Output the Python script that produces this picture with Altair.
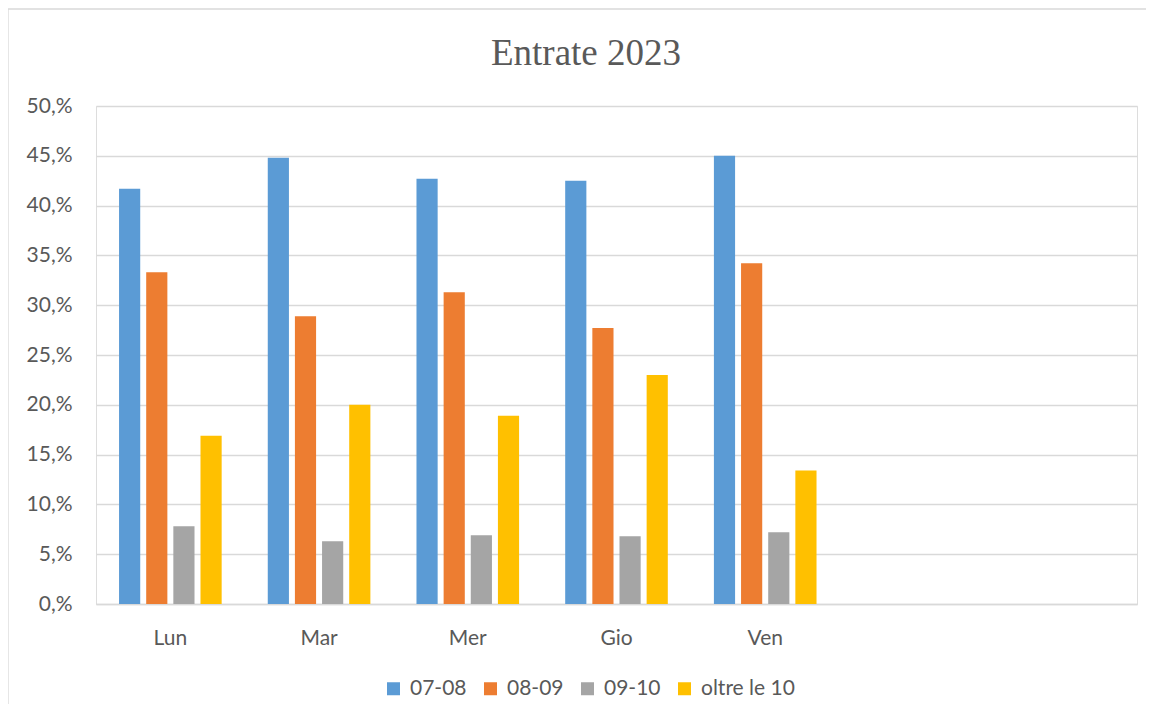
import altair as alt
import pandas as pd

title_text = "Entrate 2023"
days = ["Lun", "Mar", "Mer", "Gio", "Ven"]
empty_slots = [" ", "  "]
series = ["07-08", "08-09", "09-10", "oltre le 10"]
v_0708 = [41.7, 44.8, 42.7, 42.5, 45.0]
v_0809 = [33.3, 28.9, 31.3, 27.7, 34.2]
v_0910 = [7.8, 6.3, 6.9, 6.8, 7.2]
v_oltre = [16.9, 20.0, 18.9, 23.0, 13.4]
colors = ["#5B9BD5", "#ED7D31", "#A5A5A5", "#FFC000"]
y_ticks = [0, 5, 10, 15, 20, 25, 30, 35, 40, 45, 50]

rows = []
for s, vals in zip(series, [v_0708, v_0809, v_0910, v_oltre]):
    for d, v in zip(days, vals):
        rows.append({"giorno": d, "fascia": s, "valore": v})
df = pd.DataFrame(rows)

W, H = 1041, 498
label_font = "Lato"
txt = "#595959"

bars = alt.Chart(df).mark_bar().encode(
    x=alt.X("giorno:N", sort=days + empty_slots,
            scale=alt.Scale(domain=days + empty_slots, paddingInner=0.31, paddingOuter=0.155),
            axis=alt.Axis(title=None, labelAngle=0, labelFont=label_font, labelFontSize=21,
                          labelColor=txt, labelPadding=23, ticks=False, domainColor="#d9d9d9",
                          domainWidth=1.3, grid=False)),
    xOffset=alt.XOffset("fascia:N", sort=series,
                        scale=alt.Scale(domain=series, paddingInner=0.22, paddingOuter=0)),
    y=alt.Y("valore:Q", scale=alt.Scale(domain=[0, 50], nice=False),
            axis=alt.Axis(title=None, values=y_ticks, labelExpr="datum.value + ',%'",
                          labelFont=label_font, labelFontSize=21, labelColor=txt,
                          labelPadding=24, ticks=False, domain=False,
                          gridColor="#d9d9d9", gridWidth=1.3)),
    color=alt.Color("fascia:N", sort=series,
                    scale=alt.Scale(domain=series, range=colors),
                    legend=alt.Legend(title=None, orient="none", direction="horizontal",
                                      legendX=287, legendY=572,
                                      symbolType="square", symbolSize=169,
                                      symbolStrokeWidth=0,
                                      labelFont=label_font, labelFontSize=21,
                                      labelColor=txt, labelOffset=6,
                                      columnPadding=13)),
)

deco = alt.Chart(pd.DataFrame({"t": [title_text]}))

frame_top = deco.mark_rule(color="#d9d9d9", strokeWidth=1.3).encode(
    x=alt.value(-88), x2=alt.value(W + 200), y=alt.value(-97),
)
frame_left = deco.mark_rule(color="#d9d9d9", strokeWidth=1.3).encode(
    x=alt.value(-88), y=alt.value(-97), y2=alt.value(H + 300),
)

title = deco.mark_text(
    font="Liberation Serif", fontSize=37, color=txt, align="center", baseline="alphabetic"
).encode(text="t:N", x=alt.value(490), y=alt.value(-41))

chart = alt.layer(frame_top, frame_left, bars, title).properties(
    width=W, height=H,
    autosize=alt.AutoSizeParams(type="none"),
    padding={"left": 88, "top": 98, "right": 9, "bottom": 100},
).configure_view(stroke=None).configure(background="white")

chart.save("out.html", embed_options={"renderer": "svg", "actions": False})
